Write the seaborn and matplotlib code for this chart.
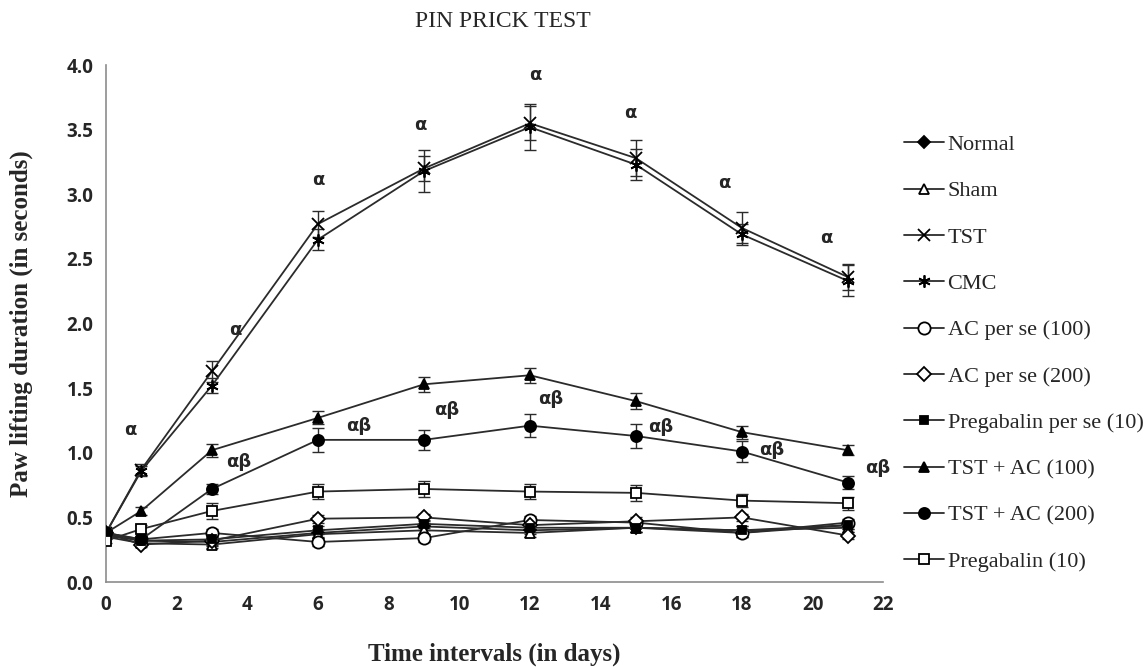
import numpy as np
import pandas as pd
import matplotlib
matplotlib.use('Agg')
import matplotlib.pyplot as plt
import seaborn as sns

# Data
days = [0, 1, 3, 6, 9, 12, 15, 18, 21]
groups = ['Normal', 'Sham', 'TST', 'CMC', 'AC per se (100)', 'AC per se (200)',
          'Pregabalin per se (10)', 'TST + AC (100)', 'TST + AC (200)', 'Pregabalin (10)']

normal = [0.38, 0.32, 0.31, 0.38, 0.43, 0.40, 0.42, 0.38, 0.44]
sham = [0.35, 0.30, 0.29, 0.37, 0.40, 0.38, 0.42, 0.40, 0.42]
tst = [0.38, 0.87, 1.63, 2.77, 3.20, 3.55, 3.28, 2.74, 2.36]
cmc = [0.38, 0.86, 1.52, 2.65, 3.18, 3.52, 3.23, 2.69, 2.33]
ac100 = [0.38, 0.33, 0.38, 0.31, 0.34, 0.48, 0.46, 0.38, 0.46]
ac200 = [0.38, 0.29, 0.32, 0.49, 0.50, 0.44, 0.47, 0.50, 0.36]
preg_se = [0.36, 0.32, 0.33, 0.40, 0.45, 0.42, 0.42, 0.40, 0.44]
tst_ac100 = [0.38, 0.55, 1.02, 1.27, 1.53, 1.60, 1.40, 1.16, 1.02]
tst_ac200 = [0.38, 0.33, 0.72, 1.10, 1.10, 1.21, 1.13, 1.01, 0.77]
preg10 = [0.32, 0.41, 0.55, 0.70, 0.72, 0.70, 0.69, 0.63, 0.61]

sem_tst = [0.02, 0.04, 0.08, 0.10, 0.10, 0.13, 0.14, 0.12, 0.10]
sem_cmc = [0.02, 0.04, 0.06, 0.08, 0.16, 0.18, 0.12, 0.08, 0.12]
sem_tst_ac100 = [0.02, 0.03, 0.05, 0.05, 0.06, 0.06, 0.06, 0.05, 0.04]
sem_tst_ac200 = [0.02, 0.03, 0.04, 0.09, 0.08, 0.09, 0.09, 0.08, 0.05]
sem_preg10 = [0.02, 0.03, 0.06, 0.06, 0.06, 0.06, 0.06, 0.05, 0.05]
sem_small = [0.02, 0.02, 0.03, 0.03, 0.03, 0.03, 0.03, 0.03, 0.03]

series = [normal, sham, tst, cmc, ac100, ac200, preg_se, tst_ac100, tst_ac200, preg10]
sems = [sem_small, sem_small, sem_tst, sem_cmc, sem_small, sem_small, sem_small,
        sem_tst_ac100, sem_tst_ac200, sem_preg10]

# marker style per group: (marker, filled, size)
styles = [('D', True, 8), ('^', False, 9), ('x', False, 10), ((6, 2, 0), False, 11),
          ('o', False, 11), ('D', False, 9), ('s', True, 7), ('^', True, 9),
          ('o', True, 10), ('s', False, 9)]

# significance labels
alpha_x = [0.7, 3.65, 6.0, 8.9, 12.15, 14.85, 17.5, 20.4]
alpha_y = [1.18, 1.95, 3.11, 3.54, 3.92, 3.63, 3.09, 2.66]
ab_x = [3.75, 7.15, 9.65, 12.6, 15.7, 18.85, 21.85]
ab_y = [0.93, 1.21, 1.33, 1.42, 1.20, 1.02, 0.88]

sns.set_style('white')
line_col = '#2b2b2b'

fig = plt.figure(figsize=(11.48, 6.67), dpi=100)
ax = fig.add_axes([0.0923, 0.1274, 0.677, 0.775])

for name, vals, err, (mk, filled, ms) in zip(groups, series, sems, styles):
    df = pd.DataFrame({'day': days, 'val': vals})
    ax.errorbar(df['day'], df['val'], yerr=err, fmt='none', ecolor=line_col,
                elinewidth=1.0, capsize=4, capthick=1.0, zorder=2)
    sns.lineplot(data=df, x='day', y='val', ax=ax, color=line_col, lw=1.3,
                 marker=mk, markersize=ms, label=name,
                 markerfacecolor='black' if filled else 'white',
                 markeredgecolor='black', markeredgewidth=1.3, zorder=3)

for x, y in zip(alpha_x, alpha_y):
    ax.text(x, y, '\u03b1', ha='center', va='center', fontsize=13, fontweight='bold',
            family='DejaVu Sans')
for x, y in zip(ab_x, ab_y):
    ax.text(x, y, '\u03b1\u03b2', ha='center', va='center', fontsize=13, fontweight='bold',
            family='DejaVu Sans')

ax.set_xlim(0, 22)
ax.set_ylim(0, 4)
ax.set_xticks(np.arange(0, 23, 2))
ax.set_yticks(np.arange(0, 4.01, 0.5))
ax.set_yticklabels(['{:.1f}'.format(v) for v in np.arange(0, 4.01, 0.5)])
ax.tick_params(length=0, labelsize=13.5, pad=9)
for lab in ax.get_xticklabels() + ax.get_yticklabels():
    lab.set_fontweight('bold')
    lab.set_family('Open Sans')
for s in ['top', 'right']:
    ax.spines[s].set_visible(False)
for s in ['left', 'bottom']:
    ax.spines[s].set_color('#8c8c8c')
    ax.spines[s].set_linewidth(1.2)

ax.set_xlabel('Time intervals (in days)', fontsize=18, fontweight='bold',
              family='Liberation Serif', labelpad=20)
ax.set_ylabel('Paw lifting duration (in seconds)', fontsize=18, fontweight='bold',
              family='Liberation Serif', labelpad=24)
fig.text(0.438, 0.968, 'PIN PRICK TEST', ha='center', va='center', fontsize=17,
         family='Liberation Serif')

handles, labels = ax.get_legend_handles_labels()
ax.get_legend().remove()
for h in handles:
    h.set_markersize(h.get_markersize() * 0.8)
fig.legend(handles, labels, loc='upper left', bbox_to_anchor=(0.778, 0.815),
           frameon=False, prop={'family': 'Liberation Serif', 'size': 16},
           handlelength=1.8, handletextpad=0.15, labelspacing=1.16, borderpad=0)

fig.savefig('out.png', dpi=100)
